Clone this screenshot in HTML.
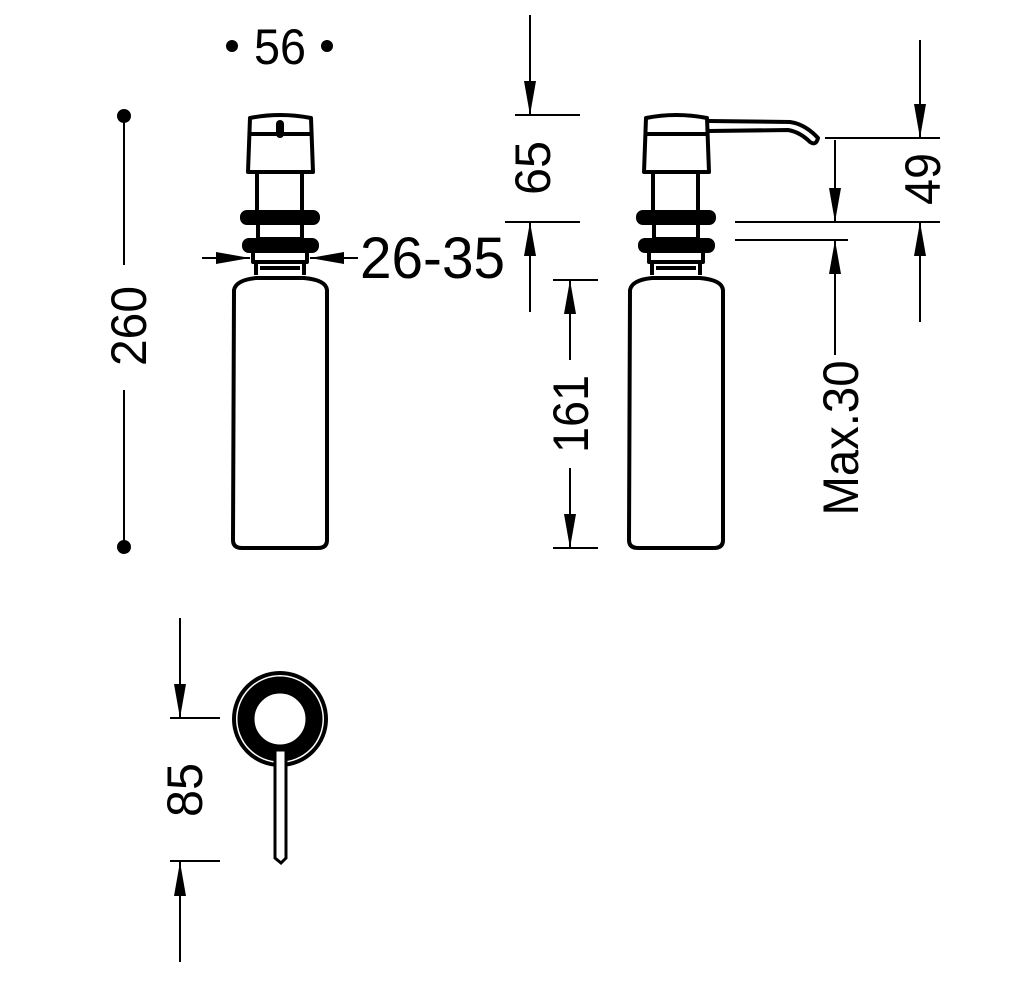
<!DOCTYPE html>
<html><head><style>html,body{margin:0;padding:0;background:#fff}svg{display:block}</style></head>
<body>
<svg width="1024" height="992" viewBox="0 0 1024 992" xmlns="http://www.w3.org/2000/svg" font-family="Liberation Sans, DejaVu Sans, sans-serif">
<defs>
<marker id="a" markerWidth="34" markerHeight="12" refX="34" refY="6" orient="auto" markerUnits="userSpaceOnUse" viewBox="0 0 34 12"><path d="M0,0 L34,6 L0,12 Z" fill="#000"/></marker>
</defs>
<g fill="none" stroke="#000" stroke-width="2">
<line x1="124" y1="116" x2="124" y2="265"/><line x1="124" y1="390" x2="124" y2="547"/>
</g>
<circle cx="124" cy="116" r="7"/><circle cx="124" cy="547" r="7"/>
<circle cx="232" cy="46" r="6"/><circle cx="327" cy="46" r="6"/>
<text x="280" y="64" font-size="50" text-anchor="middle" textLength="52" lengthAdjust="spacingAndGlyphs">56</text>
<text transform="translate(146,326) rotate(-90)" font-size="50" text-anchor="middle" textLength="80" lengthAdjust="spacingAndGlyphs">260</text>

<g fill="none" stroke="#000" stroke-width="4" stroke-linejoin="round">
<path d="M248,172 L250,118 Q280,112 311,118 L313,172 Z"/>
<line x1="249" y1="134" x2="312" y2="134"/>
<rect x="257" y="172" width="45" height="40"/>
<rect x="242" y="212" width="76" height="11" rx="5" fill="#000"/>
<rect x="258" y="223" width="44" height="16"/>
<rect x="244" y="240" width="73" height="11" rx="5" fill="#000"/>
<path d="M253,251 L307,251 L307,262 L253,262 Z"/>
<path d="M256,262 L256,275 M304,262 L304,275 M260,268 L300,268"/>
<path d="M234,290 Q236,280 256,278 L304,278 Q326,280 327,290 L327,540 Q327,548 318,548 L242,548 Q233,548 233,540 Z"/>
</g>
<rect x="276" y="120" width="8" height="18" rx="4" fill="#000"/>
<g stroke="#000" stroke-width="2">
<line x1="202" y1="258" x2="250" y2="258" marker-end="url(#a)"/>
<line x1="358" y1="258" x2="310" y2="258" marker-end="url(#a)"/>
</g>
<text x="360" y="278" font-size="58" textLength="145" lengthAdjust="spacingAndGlyphs">26-35</text>

<g stroke="#000" stroke-width="2" fill="none">
<line x1="530" y1="15" x2="530" y2="115" marker-end="url(#a)"/>
<line x1="515" y1="115" x2="580" y2="115"/>
<line x1="505" y1="222" x2="580" y2="222"/>
<line x1="530" y1="312" x2="530" y2="222" marker-end="url(#a)"/>
<line x1="553" y1="280" x2="598" y2="280"/>
<line x1="570" y1="360" x2="570" y2="280" marker-end="url(#a)"/>
<line x1="570" y1="468" x2="570" y2="548" marker-end="url(#a)"/>
<line x1="553" y1="548" x2="598" y2="548"/>
</g>
<text transform="translate(550,168) rotate(-90)" font-size="50" text-anchor="middle" textLength="54" lengthAdjust="spacingAndGlyphs">65</text>
<text transform="translate(588,414) rotate(-90)" font-size="50" text-anchor="middle" textLength="78" lengthAdjust="spacingAndGlyphs">161</text>

<g fill="none" stroke="#000" stroke-width="4" stroke-linejoin="round">
<path d="M644,172 L646,118 Q676,112 707,118 L709,172 Z"/>
<line x1="645" y1="134" x2="708" y2="134"/>
<path d="M708,121 L790,122 Q805,124 818,138 Q816,146 810,142 Q800,132 788,130 L708,131"/>
<rect x="653" y="172" width="45" height="40"/>
<rect x="638" y="212" width="76" height="11" rx="5" fill="#000"/>
<rect x="654" y="223" width="44" height="16"/>
<rect x="640" y="240" width="73" height="11" rx="5" fill="#000"/>
<path d="M649,251 L703,251 L703,262 L649,262 Z"/>
<path d="M652,262 L652,275 M700,262 L700,275 M656,268 L696,268"/>
<path d="M630,290 Q632,280 652,278 L700,278 Q722,280 723,290 L723,540 Q723,548 714,548 L638,548 Q629,548 629,540 Z"/>
</g>
<g stroke="#000" stroke-width="2" fill="none">
<line x1="735" y1="222" x2="940" y2="222"/>
<line x1="735" y1="240" x2="848" y2="240"/>
<line x1="835" y1="140" x2="835" y2="222" marker-end="url(#a)"/>
<line x1="835" y1="355" x2="835" y2="240" marker-end="url(#a)"/>
<line x1="825" y1="138" x2="940" y2="138"/>
<line x1="920" y1="40" x2="920" y2="138" marker-end="url(#a)"/>
<line x1="920" y1="322" x2="920" y2="222" marker-end="url(#a)"/>
</g>
<text transform="translate(858,438) rotate(-90)" font-size="50" text-anchor="middle" textLength="155" lengthAdjust="spacingAndGlyphs">Max.30</text>
<text transform="translate(940,179) rotate(-90)" font-size="50" text-anchor="middle" textLength="52" lengthAdjust="spacingAndGlyphs">49</text>

<g stroke="#000" stroke-width="2" fill="none">
<line x1="180" y1="618" x2="180" y2="718" marker-end="url(#a)"/>
<line x1="170" y1="718" x2="220" y2="718"/>
<line x1="170" y1="861" x2="220" y2="861"/>
<line x1="180" y1="962" x2="180" y2="862" marker-end="url(#a)"/>
</g>
<text transform="translate(202,790) rotate(-90)" font-size="50" text-anchor="middle" textLength="54" lengthAdjust="spacingAndGlyphs">85</text>
<circle cx="280" cy="719" r="46" fill="none" stroke="#000" stroke-width="4"/>
<circle cx="280" cy="719" r="34" fill="none" stroke="#000" stroke-width="17"/>
<path d="M275,750 L286,750 L286,858 L281,863 L275,858 Z" fill="#fff" stroke="#000" stroke-width="3"/>
</svg>
</body></html>
